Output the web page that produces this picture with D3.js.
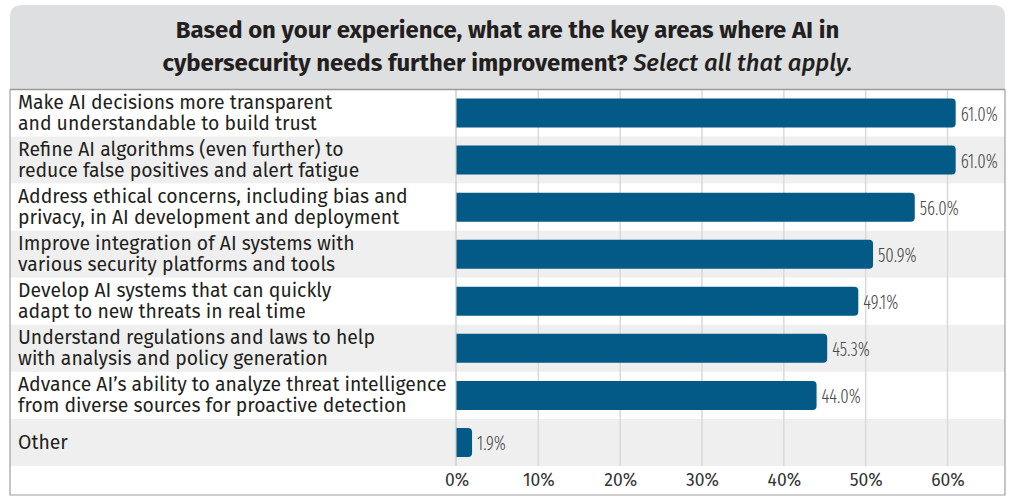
<!DOCTYPE html>
<html>
<head>
<meta charset="utf-8">
<script src="https://cdn.jsdelivr.net/npm/d3@7"></script>
<style>
  html, body { margin: 0; padding: 0; background: #fff; }
  svg { display: block; }
</style>
</head>
<body>
<svg id="chart" width="1013" height="497"></svg>
<script>
// data
var titleLines = ["Based on your experience, what are the key areas where AI in",
                  "cybersecurity needs further improvement?"];
var titleItalic = "Select all that apply.";
var categories = [
  ["Make AI decisions more transparent", "and understandable to build trust"],
  ["Refine AI algorithms (even further) to", "reduce false positives and alert fatigue"],
  ["Address ethical concerns, including bias and", "privacy, in AI development and deployment"],
  ["Improve integration of AI systems with", "various security platforms and tools"],
  ["Develop AI systems that can quickly", "adapt to new threats in real time"],
  ["Understand regulations and laws to help", "with analysis and policy generation"],
  ["Advance AI\u2019s ability to analyze threat intelligence", "from diverse sources for proactive detection"],
  ["Other"]
];
var values = [61.0, 61.0, 56.0, 50.9, 49.1, 45.3, 44.0, 1.9];
var tickValues = [0, 10, 20, 30, 40, 50, 60];

var svg = d3.select("#chart");

var left = 10, right = 1005, headTop = 5, headBottom = 89.5,
    plotTop = 89.5, plotBottom = 466, frameBottom = 495, divider = 456;

var x = d3.scaleLinear().domain([0, 60]).range([456.5, 947.5]);
var y = d3.scaleBand().domain(d3.range(categories.length))
    .range([plotTop, plotBottom]).paddingInner(0).paddingOuter(0);
var barH = 29;

// header
var r = 12;
svg.append("path")
    .attr("d", "M" + left + "," + headBottom + " V" + (headTop + r) +
      " Q" + left + "," + headTop + " " + (left + r) + "," + headTop +
      " H" + (right - r) + " Q" + right + "," + headTop + " " + right + "," + (headTop + r) +
      " V" + headBottom + " Z")
    .attr("fill", "#dedfe0");

var title = svg.append("text")
    .attr("text-anchor", "middle")
    .attr("font-family", "'Fira Sans', Roboto, 'Noto Sans', sans-serif")
    .attr("font-weight", 700)
    .attr("font-size", 21)
    .attr("fill", "#231f20");
title.append("tspan").attr("x", (left + right) / 2).attr("y", 38).text(titleLines[0]);
var t2 = title.append("tspan").attr("x", (left + right) / 2).attr("y", 71);
t2.append("tspan").text(titleLines[1] + " ");
t2.append("tspan").attr("font-style", "italic").attr("font-weight", 500).text(titleItalic);

// row stripes
svg.append("g").selectAll("rect")
  .data(categories)
  .enter().append("rect")
    .attr("x", left)
    .attr("y", function(d, i) { return y(i); })
    .attr("width", right - left)
    .attr("height", y.bandwidth())
    .attr("fill", function(d, i) { return i % 2 ? "#efefef" : "#ffffff"; });

// gridlines
svg.append("g").selectAll("line")
  .data(tickValues.slice(1))
  .enter().append("line")
    .attr("x1", function(d) { return x(d); })
    .attr("x2", function(d) { return x(d); })
    .attr("y1", plotTop)
    .attr("y2", plotBottom)
    .attr("stroke", "#d9d9d9")
    .attr("stroke-width", 1.5);

// divider between labels and bars
svg.append("line")
    .attr("x1", divider).attr("x2", divider)
    .attr("y1", plotTop).attr("y2", plotBottom)
    .attr("stroke", "#cfcfcf").attr("stroke-width", 1.5);

// bars, rounded on the right end
var rr = 4;
svg.append("g").selectAll("path")
  .data(values)
  .enter().append("path")
    .attr("d", function(d, i) {
      var x0 = x(0), x1 = x(d), y0 = y(i) + (y.bandwidth() - barH) / 2, y1 = y0 + barH;
      var k = Math.min(rr, (x1 - x0) / 2);
      return "M" + x0 + "," + y0 + " H" + (x1 - k) +
        " Q" + x1 + "," + y0 + " " + x1 + "," + (y0 + k) +
        " V" + (y1 - k) + " Q" + x1 + "," + y1 + " " + (x1 - k) + "," + y1 +
        " H" + x0 + " Z";
    })
    .attr("fill", "#035a86");

// value labels
var valueLabels = svg.append("g")
    .attr("font-family", "'Fira Sans Extra Condensed', 'Fira Sans Condensed', 'Liberation Sans Narrow', 'DejaVu Sans Condensed', sans-serif")
    .attr("font-weight", 300)
    .attr("font-size", 21)
    .attr("fill", "#4a4a4a");
valueLabels.selectAll("text")
  .data(values)
  .enter().append("text")
    .attr("x", function(d) { return x(d) + 5; })
    .attr("y", function(d, i) { return y(i) + y.bandwidth() / 2 + 7.5; })
    .text(function(d) { return d.toFixed(1) + "%"; });

// "49.1%" is about 35px wide in the reference
var vw = valueLabels.selectAll("text").nodes()[4].getComputedTextLength();
if (vw > 0) valueLabels.selectAll("text")
    .attr("transform", function(d) {
      var x0 = x(d) + 5, s = 35 / vw;
      return "translate(" + x0 + ",0) scale(" + s + ",1) translate(" + (-x0) + ",0)";
    });

// category labels
var labels = svg.append("g")
    .attr("font-family", "'Fira Sans', 'Noto Sans', sans-serif")
    .attr("font-size", 18)
    .attr("fill", "#231f20");
labels.selectAll("text")
  .data(categories)
  .enter().append("text")
    .each(function(d, i) {
      var cy = y(i) + y.bandwidth() / 2;
      var t = d3.select(this);
      if (d.length === 1) {
        t.append("tspan").attr("x", 18).attr("y", cy + 7).text(d[0]);
      } else {
        d.forEach(function(line, j) {
          t.append("tspan").attr("x", 18).attr("y", cy - 4 + j * 21).text(line);
        });
      }
    });

// fit label font to the reference width of the longest line
var longest = 0;
labels.selectAll("tspan").each(function() { longest = Math.max(longest, this.getComputedTextLength()); });
if (longest > 0) labels.attr("font-size", 18 * 429 / longest);

var w1 = title.select("tspan").node().getComputedTextLength();
if (w1 > 0) title.attr("font-size", 21 * 664 / w1);

// x axis
var axis = svg.append("g")
    .attr("transform", "translate(0," + plotBottom + ")")
    .call(d3.axisBottom(x).tickValues(tickValues).tickSize(0).tickPadding(8)
      .tickFormat(function(d) { return d + "%"; }));
axis.select(".domain").remove();
axis.selectAll("text")
    .attr("font-family", "'Fira Sans', 'Noto Sans', sans-serif")
    .attr("font-size", 17.5)
    .attr("fill", "#333");

// header bottom rule and frame
svg.append("line")
    .attr("x1", left).attr("x2", right)
    .attr("y1", headBottom).attr("y2", headBottom)
    .attr("stroke", "#9a9a9a").attr("stroke-width", 1.5);
svg.append("path")
    .attr("d", "M" + left + "," + headBottom + " V" + frameBottom + " H" + right + " V" + headBottom)
    .attr("fill", "none")
    .attr("stroke", "#a0a0a0")
    .attr("stroke-width", 1.2);
</script>
</body>
</html>
